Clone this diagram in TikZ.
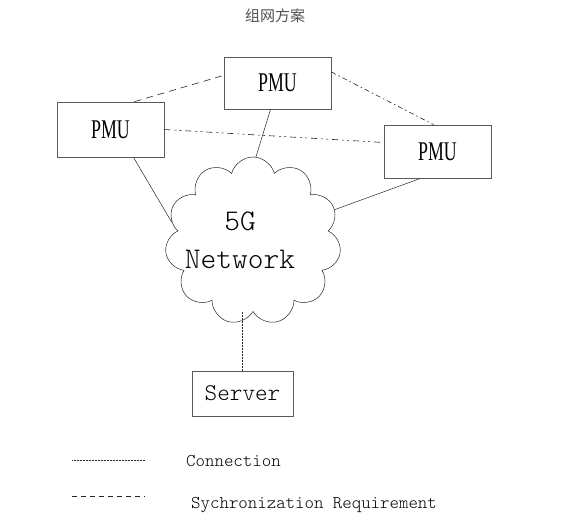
\documentclass[tikz,border=0pt]{standalone}
\usepackage{fontspec}
\usetikzlibrary{positioning}
\usetikzlibrary{calc}
\usetikzlibrary{shapes.symbols}
\newfontfamily\pmufont[FakeStretch=0.66]{Liberation Serif}
\newfontfamily\netfont{Latin Modern Mono Light}
\newfontfamily\cjkfont{Noto Sans CJK SC}
\definecolor{boxgray}{RGB}{90,90,90}
\definecolor{titlegray}{RGB}{80,80,80}
\tikzset{
	pmubox/.style={draw=boxgray,line width=0.8pt,inner sep=0pt,minimum width=107pt,minimum height=52pt,font=\pmufont\fontsize{27}{27}\selectfont},
	serverbox/.style={draw=boxgray,line width=0.8pt,inner sep=0pt,minimum width=101pt,minimum height=45pt,font=\netfont\fontsize{24}{24}\selectfont},
	conn/.style={line width=0.5pt,black!85},
	sync/.style={line width=0.6pt,black!85},
	legendtext/.style={anchor=base west,inner sep=0pt,font=\netfont\fontsize{18}{18}\selectfont},
}

\begin{document}
\begin{tikzpicture}[x=1pt,y=-1pt]
	\useasboundingbox (0,0) rectangle (574,522);

	%title.....................
	\node [font=\cjkfont\fontsize{15}{15}\selectfont,text=titlegray] (title) at (275,16) {组网方案};

	%PMU boxes.....................
	\node [pmubox] (pmuTop) at (277.5,83) {PMU};
	\node [pmubox,minimum height=55pt] (pmuLeft) at (110.5,129.5) {PMU};
	\node [pmubox,minimum height=53pt] (pmuRight) at (437.5,151.5) {PMU};

	%5G cloud......................
	\node [cloud,cloud puffs=11,aspect=1,draw=black!85,line width=0.5pt,minimum width=176pt,minimum height=168pt] (net) at (253,241) {};
	\node [font=\netfont\fontsize{30}{38}\selectfont,align=center] (netLabel) at (240,240) {5G\\Network};

	%server........................
	\node [serverbox] (server) at (242.5,393.5) {Server};

	%connections...................
	\draw [conn] ($(pmuLeft.south)+(23,0)$) -- (net.167);
	\draw [conn] ($(pmuTop.south)+(-7,0)$) -- (net.88);
	\draw [conn] ($(pmuRight.south)+(-17,0)$) -- (net.21);
	\draw [conn,densely dotted] (server.north) -- (server.north |- net.south);

	%synchronization...............
	\draw [sync,dash pattern=on 7pt off 5pt] ($(pmuLeft.north)+(24,0)$) -- ($(pmuTop.west)+(-2,-7)$);
	\draw [sync,dash pattern=on 5pt off 3pt on 1.5pt off 3pt] ($(pmuTop.east)+(0,-11)$) -- ($(pmuRight.north)+(-4,0)$);
	\draw [sync,dash pattern=on 6pt off 4pt on 2pt off 3pt on 2pt off 4pt] (pmuLeft.east) -- ($(pmuRight.west)+(0,-9)$);

	%legend........................
	\coordinate (connA) at (72,460);
	\coordinate (connB) at (145,460);
	\draw [conn,densely dotted] (connA) -- (connB);
	\node [legendtext] (connText) at (186,466) {Connection};

	\coordinate (syncA) at (72,496);
	\coordinate (syncB) at (145,496);
	\draw [sync,dash pattern=on 5pt off 4pt] (syncA) -- (syncB);
	\node [legendtext] (syncText) at (191,508) {Sychronization Requirement};

\end{tikzpicture}
\end{document}
